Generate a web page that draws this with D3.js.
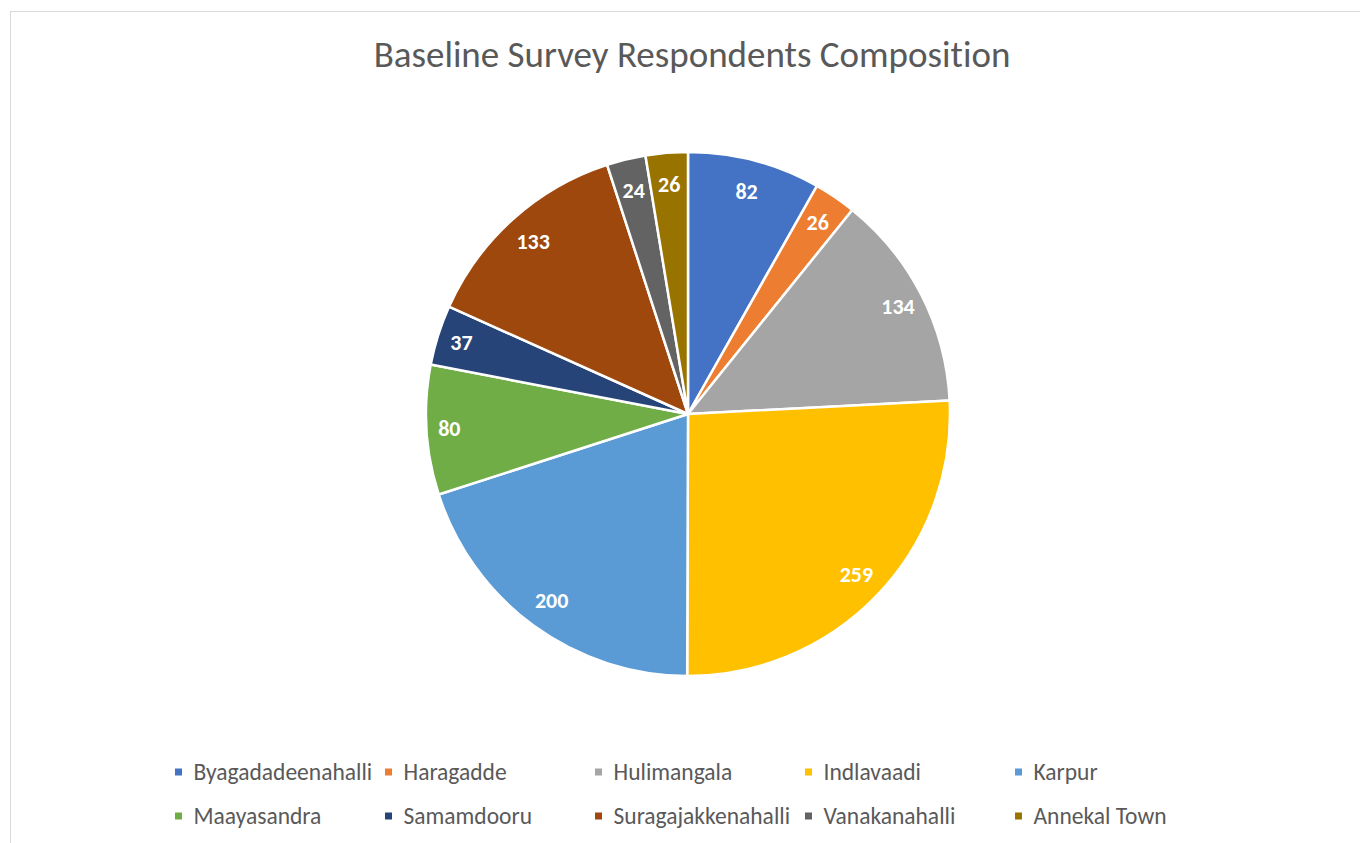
<!DOCTYPE html>
<html>
<head>
<meta charset="utf-8">
<script src="https://cdn.jsdelivr.net/npm/d3@7"></script>
<style>
  html, body { margin: 0; padding: 0; background: #fff; }
  svg { display: block; font-family: Carlito, "Liberation Sans", "Open Sans", sans-serif; }
  svg text { font-variant-ligatures: none; font-feature-settings: "liga" 0, "clig" 0; }
</style>
</head>
<body>
<svg id="chart" width="1360" height="843"></svg>
<script>
// Respondents by village
const villages = ["Byagadadeenahalli", "Haragadde", "Hulimangala", "Indlavaadi", "Karpur",
                  "Maayasandra", "Samamdooru", "Suragajakkenahalli", "Vanakanahalli", "Annekal Town"];
const respondents = [82, 26, 134, 259, 200, 80, 37, 133, 24, 26];
const sliceColors = ["#4472C4", "#ED7D31", "#A5A5A5", "#FFC000", "#5B9BD5",
                     "#70AD47", "#264478", "#9E480E", "#636363", "#997300"];
const chartTitle = "Baseline Survey Respondents Composition";

const svg = d3.select("#chart");
const W = 1360, H = 843;

// chart area frame
svg.append("rect")
  .attr("x", 10.5).attr("y", 11.5)
  .attr("width", W + 20).attr("height", H + 20)
  .attr("fill", "#fff").attr("stroke", "#d9d9d9").attr("stroke-width", 1);

svg.append("text")
  .attr("x", 692).attr("y", 67)
  .attr("text-anchor", "middle")
  .attr("fill", "#595959").attr("font-size", 37)
  .text(chartTitle);

const cx = 688, cy = 414, R = 262;
const color = d3.scaleOrdinal().domain(villages).range(sliceColors);

const pie = d3.pie().sort(null).value(d => d.value);
const arcs = pie(villages.map((v, i) => ({ name: v, value: respondents[i] })));
const arc = d3.arc().innerRadius(0).outerRadius(R);
const labelArc = d3.arc().innerRadius(230).outerRadius(230);

const g = svg.append("g").attr("transform", `translate(${cx},${cy})`);

g.selectAll("path.slice")
  .data(arcs)
  .join("path")
  .attr("class", "slice")
  .attr("d", arc)
  .attr("fill", d => color(d.data.name))
  .attr("stroke", "#fff")
  .attr("stroke-width", 2.5)
  .attr("stroke-linejoin", "round");

// value labels sit just inside the rim; labels near the sides can go a bit further out
g.selectAll("text.value")
  .data(arcs)
  .join("text")
  .attr("class", "value")
  .attr("transform", d => {
    const [x, y] = labelArc.centroid(d);
    const horiz = Math.pow(Math.sin((d.startAngle + d.endAngle) / 2), 4);
    const k = 1 + 0.04 * horiz;
    return `translate(${x * k},${y * k})`;
  })
  .attr("text-anchor", "middle")
  .attr("dy", 7.5)
  .attr("fill", "#fff").attr("font-weight", "bold").attr("font-size", 22)
  .text(d => d.data.value);

// legend: five equal columns, two rows
const legendX0 = 178.5, colStep = 210, rowY = [772, 816];
const legend = svg.append("g");
const items = legend.selectAll("g.item")
  .data(villages)
  .join("g")
  .attr("class", "item")
  .attr("transform", (d, i) => `translate(${legendX0 + (i % 5) * colStep},${rowY[Math.floor(i / 5)]})`);

items.append("rect")
  .attr("x", -3.5).attr("y", -3.5).attr("width", 7).attr("height", 7)
  .attr("fill", d => color(d));

items.append("text")
  .attr("x", 15).attr("y", 7.5)
  .attr("fill", "#595959").attr("font-size", 23.5)
  .text(d => d);
</script>
</body>
</html>
